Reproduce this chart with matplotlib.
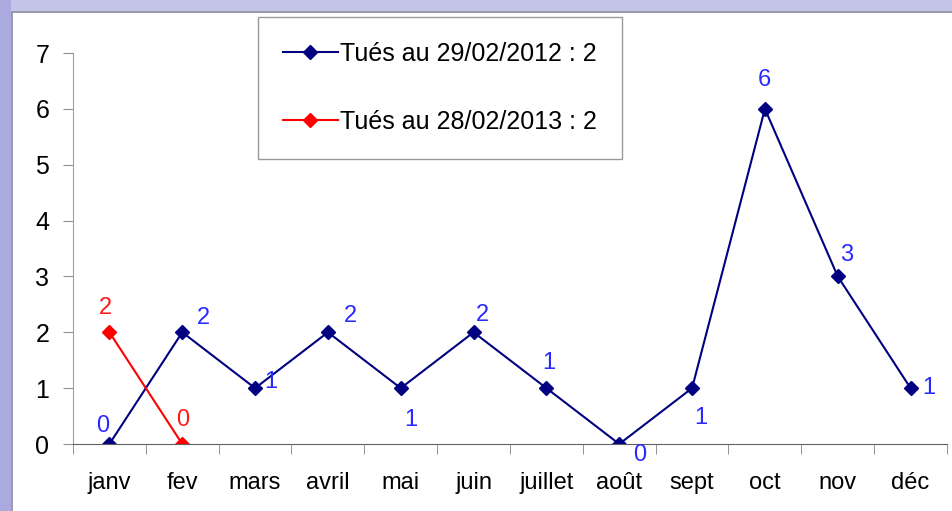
import matplotlib
matplotlib.use('Agg')
from matplotlib import pyplot as plt
from matplotlib.patches import Rectangle
import numpy as np

mois = ['janv', 'fev', 'mars', 'avril', 'mai', 'juin', 'juillet', 'août',
        'sept', 'oct', 'nov', 'déc']
tues_2012 = [0, 2, 1, 2, 1, 2, 1, 0, 1, 6, 3, 1]
tues_2013 = [2, 0]
label_2012 = 'Tués au 29/02/2012 : 2'
label_2013 = 'Tués au 28/02/2013 : 2'

# where each value label sits relative to its point (pixels, y up)
off_2012 = [(-7, 18), (21, 14), (16, 6), (23, 16), (10, -32), (9, 17), (2, 25),
            (20, -11), (9, -30), (-1, 29), (9, 21), (18, 0)]
off_2013 = [(-4, 24), (0, 24)]

plt.rcParams['font.family'] = ['Liberation Sans', 'DejaVu Sans']

fig = plt.figure(figsize=(9.53, 5.11), dpi=100)
fig.patch.set_facecolor('white')

# screenshot window border (top band and left strip)
fig.patches.append(Rectangle((0, 1 - 11 / 511), 1, 11 / 511, transform=fig.transFigure,
                             facecolor='#c4c4e8', edgecolor='none'))
fig.patches.append(Rectangle((0, 1 - 13 / 511), 1, 2 / 511, transform=fig.transFigure,
                             facecolor='#9a9aa8', edgecolor='none'))
fig.patches.append(Rectangle((0, 0), 11 / 953, 1, transform=fig.transFigure,
                             facecolor='#aaaade', edgecolor='none'))
fig.patches.append(Rectangle((11 / 953, 0), 2 / 953, 1 - 11 / 511, transform=fig.transFigure,
                             facecolor='#9a9aa8', edgecolor='none'))

ax = fig.add_axes([73 / 953, 1 - 444 / 511, 874 / 953, 391 / 511])
x = np.arange(len(mois))

ax.plot(x, tues_2012, color='#000080', lw=1.5, marker='D', ms=7.5, label=label_2012)
ax.plot(x[:len(tues_2013)], tues_2013, color='#ff0000', lw=1.5, marker='D', ms=7.5,
        label=label_2013)

for xi, v, o in zip(x, tues_2012, off_2012):
    ax.annotate(str(v), (xi, v), xytext=o, textcoords='offset pixels',
                ha='center', va='center', color='#2a2aff', fontsize=17)
for xi, v, o in zip(x, tues_2013, off_2013):
    ax.annotate(str(v), (xi, v), xytext=o, textcoords='offset pixels',
                ha='center', va='center', color='#ff1a1a', fontsize=17)

ax.set_xlim(-0.5, 11.5)
ax.set_ylim(0, 7)
ax.set_xticks(x)
ax.set_xticklabels(mois, fontsize=17)
ax.set_xticks(np.arange(-0.5, 12, 1), minor=True)
ax.tick_params(axis='x', which='major', length=0, pad=20)
ax.tick_params(axis='x', which='minor', length=7, color='#808080')
ax.set_yticks(range(0, 8))
ax.tick_params(axis='y', labelsize=18, length=7, color='#909090', pad=10)

for s in ['top', 'right']:
    ax.spines[s].set_visible(False)
ax.spines['left'].set_color('#a0a0a0')
ax.spines['bottom'].set_color('#606060')
ax.patch.set_alpha(0)

leg = ax.legend(loc='upper left', bbox_to_anchor=(185 / 874, 1 + 36 / 391),
                borderaxespad=0, fontsize=18, frameon=True, fancybox=False,
                edgecolor='#808080', borderpad=1.0, labelspacing=1.75,
                handlelength=2.2, handletextpad=0.1)
leg.get_frame().set_linewidth(1.0)

fig.savefig('out.png', dpi=100)
